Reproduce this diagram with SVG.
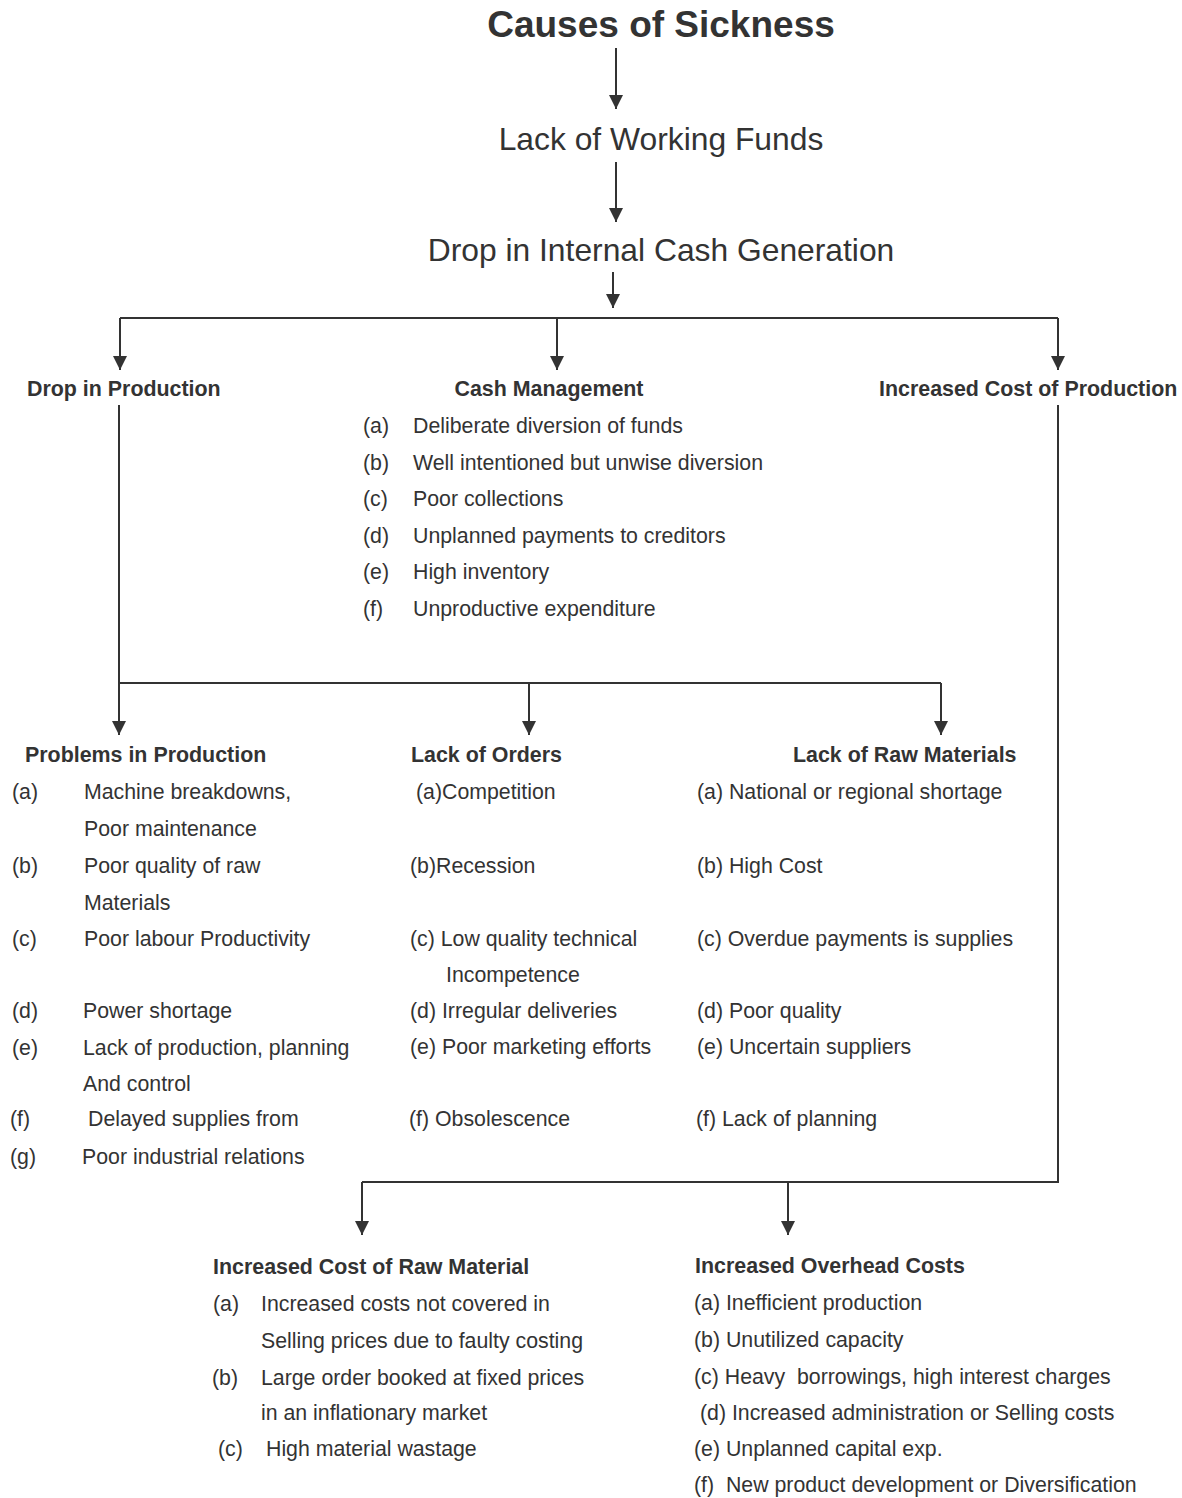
<svg xmlns="http://www.w3.org/2000/svg" width="1182" height="1498" viewBox="0 0 1182 1498">
<style>
text{font-family:"Liberation Sans",Arial,sans-serif;fill:#333;}
.t{font-size:37px;font-weight:bold;text-anchor:middle;}
.m{font-size:31.8px;text-anchor:middle;}
.h{font-size:21.4px;font-weight:bold;}
.b{font-size:21.3px;}
.c{fill:none;stroke:#333;stroke-width:2;}
.a{marker-end:url(#ah);}
</style>
<defs>
<marker id="ah" viewBox="0 0 14 14" refX="14" refY="7" markerWidth="14" markerHeight="14" markerUnits="userSpaceOnUse" orient="auto">
<path d="M0,0 L14,7 L0,14 z" fill="#333"/>
</marker>
</defs>
<rect width="1182" height="1498" fill="#fff"/>
<g id="connectors">
<path class="c a" d="M616,48 V109"/>
<path class="c a" d="M616,162 V222"/>
<path class="c a" d="M613,272 V308"/>
<path class="c" d="M120,318 H1058"/>
<path class="c a" d="M120,318 V370"/>
<path class="c a" d="M557,318 V370"/>
<path class="c a" d="M1058,318 V370"/>
<path class="c" d="M119,405 V683 H941"/>
<path class="c a" d="M119,683 V735"/>
<path class="c a" d="M529,683 V735"/>
<path class="c a" d="M941,683 V735"/>
<path class="c" d="M1058,405 V1182 H362"/>
<path class="c a" d="M362,1182 V1235"/>
<path class="c a" d="M788,1182 V1235"/>
</g>
<g id="title"><text class="t" x="661" y="37">Causes of Sickness</text></g>
<g id="lack-working-funds"><text class="m" x="661" y="150">Lack of Working Funds</text></g>
<g id="drop-internal-cash"><text class="m" x="661" y="261">Drop in Internal Cash Generation</text></g>
<g id="drop-in-production"><text class="h" x="27" y="396">Drop in Production</text></g>
<g id="cash-management">
<text class="h" x="549" y="396" text-anchor="middle">Cash Management</text>
<text class="b" x="363" y="433">(a)</text><text class="b" x="413" y="433">Deliberate diversion of funds</text>
<text class="b" x="363" y="470">(b)</text><text class="b" x="413" y="470">Well intentioned but unwise diversion</text>
<text class="b" x="363" y="506">(c)</text><text class="b" x="413" y="506">Poor collections</text>
<text class="b" x="363" y="543">(d)</text><text class="b" x="413" y="543">Unplanned payments to creditors</text>
<text class="b" x="363" y="579">(e)</text><text class="b" x="413" y="579">High inventory</text>
<text class="b" x="363" y="616">(f)</text><text class="b" x="413" y="616">Unproductive expenditure</text>
</g>
<g id="increased-cost-production"><text class="h" x="879" y="396">Increased Cost of Production</text></g>
<g id="problems-in-production">
<text class="h" x="25" y="762">Problems in Production</text>
<text class="b" x="12" y="799">(a)</text><text class="b" x="84" y="799">Machine breakdowns,</text>
<text class="b" x="84" y="836">Poor maintenance</text>
<text class="b" x="12" y="873">(b)</text><text class="b" x="84" y="873">Poor quality of raw</text>
<text class="b" x="84" y="910">Materials</text>
<text class="b" x="12" y="946">(c)</text><text class="b" x="84" y="946">Poor labour Productivity</text>
<text class="b" x="12" y="1018">(d)</text><text class="b" x="83" y="1018">Power shortage</text>
<text class="b" x="12" y="1055">(e)</text><text class="b" x="83" y="1055">Lack of production, planning</text>
<text class="b" x="83" y="1091">And control</text>
<text class="b" x="10" y="1126">(f)</text><text class="b" x="88" y="1126">Delayed supplies from</text>
<text class="b" x="10" y="1164">(g)</text><text class="b" x="82" y="1164">Poor industrial relations</text>
</g>
<g id="lack-of-orders">
<text class="h" x="411" y="762">Lack of Orders</text>
<text class="b" x="416" y="799">(a)Competition</text>
<text class="b" x="410" y="873">(b)Recession</text>
<text class="b" x="410" y="946">(c) Low quality technical</text>
<text class="b" x="446" y="982">Incompetence</text>
<text class="b" x="410" y="1018">(d) Irregular deliveries</text>
<text class="b" x="410" y="1054">(e) Poor marketing efforts</text>
<text class="b" x="409" y="1126">(f) Obsolescence</text>
</g>
<g id="lack-of-raw-materials">
<text class="h" x="793" y="762">Lack of Raw Materials</text>
<text class="b" x="697" y="799">(a) National or regional shortage</text>
<text class="b" x="697" y="873">(b) High Cost</text>
<text class="b" x="697" y="946">(c) Overdue payments is supplies</text>
<text class="b" x="697" y="1018">(d) Poor quality</text>
<text class="b" x="697" y="1054">(e) Uncertain suppliers</text>
<text class="b" x="696" y="1126">(f) Lack of planning</text>
</g>
<g id="increased-cost-raw-material">
<text class="h" x="213" y="1274">Increased Cost of Raw Material</text>
<text class="b" x="213" y="1311">(a)</text><text class="b" x="261" y="1311">Increased costs not covered in</text>
<text class="b" x="261" y="1348">Selling prices due to faulty costing</text>
<text class="b" x="212" y="1385">(b)</text><text class="b" x="261" y="1385">Large order booked at fixed prices</text>
<text class="b" x="261" y="1420">in an inflationary market</text>
<text class="b" x="218" y="1456">(c)</text><text class="b" x="266" y="1456">High material wastage</text>
</g>
<g id="increased-overhead-costs">
<text class="h" x="695" y="1273">Increased Overhead Costs</text>
<text class="b" x="694" y="1310">(a) Inefficient production</text>
<text class="b" x="694" y="1347">(b) Unutilized capacity</text>
<text class="b" x="694" y="1384" xml:space="preserve">(c) Heavy  borrowings, high interest charges</text>
<text class="b" x="700" y="1420">(d) Increased administration or Selling costs</text>
<text class="b" x="694" y="1456">(e) Unplanned capital exp.</text>
<text class="b" x="694" y="1492" xml:space="preserve">(f)  New product development or Diversification</text>
</g>
</svg>
